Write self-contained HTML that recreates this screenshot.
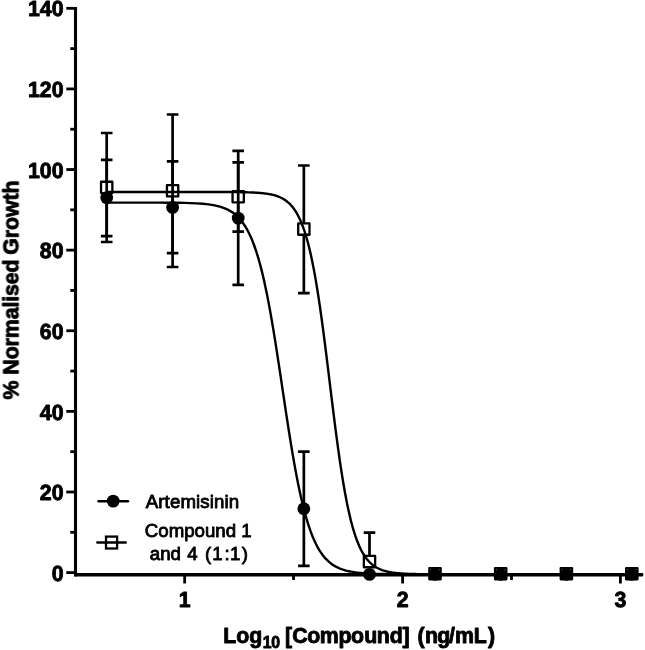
<!DOCTYPE html>
<html><head><meta charset="utf-8"><title>Dose response</title>
<style>html,body{margin:0;padding:0;background:#fff}body{width:645px;height:650px;position:relative;overflow:hidden}</style></head>
<body>
<svg width="645" height="650" viewBox="0 0 645 650" style="display:block;position:absolute;left:0;top:0">
<rect width="645" height="650" fill="#fff"/>
<g style="filter:blur(0.4px)">
<g fill="#000">
<rect x="73.95" y="7.0" width="3.1" height="569.4"/>
<rect x="74.1" y="572.9" width="569.2" height="3.6" rx="1"/>
<rect x="66.3" y="571.20" width="8.5" height="2.8"/>
<rect x="66.3" y="490.59" width="8.5" height="2.8"/>
<rect x="66.3" y="409.97" width="8.5" height="2.8"/>
<rect x="66.3" y="329.36" width="8.5" height="2.8"/>
<rect x="66.3" y="248.74" width="8.5" height="2.8"/>
<rect x="66.3" y="168.13" width="8.5" height="2.8"/>
<rect x="66.3" y="87.52" width="8.5" height="2.8"/>
<rect x="66.3" y="6.90" width="8.5" height="2.8"/>
<rect x="70.3" y="530.89" width="4.5" height="2.8"/>
<rect x="70.3" y="450.28" width="4.5" height="2.8"/>
<rect x="70.3" y="369.67" width="4.5" height="2.8"/>
<rect x="70.3" y="289.05" width="4.5" height="2.8"/>
<rect x="70.3" y="208.44" width="4.5" height="2.8"/>
<rect x="70.3" y="127.82" width="4.5" height="2.8"/>
<rect x="70.3" y="47.21" width="4.5" height="2.8"/>
<rect x="183.25" y="575" width="2.8" height="8.5"/>
<rect x="401.20" y="575" width="2.8" height="8.5"/>
<rect x="619.00" y="575" width="2.8" height="8.5"/>
<rect x="292.10" y="575" width="2.8" height="5"/>
<rect x="510.10" y="575" width="2.8" height="5"/>
</g>
<path d="M106.7,133.0 V242.0 M100.90,133.0 H112.50 M100.90,242.0 H112.50" stroke="#000" stroke-width="2.7" fill="none"/>
<path d="M172.6,114.5 V267.0 M166.80,114.5 H178.40 M166.80,267.0 H178.40" stroke="#000" stroke-width="2.7" fill="none"/>
<path d="M238.2,162.3 V231.6 M232.40,162.3 H244.00 M232.40,231.6 H244.00" stroke="#000" stroke-width="2.7" fill="none"/>
<path d="M303.85,165.5 V293.1 M298.05,165.5 H309.65 M298.05,293.1 H309.65" stroke="#000" stroke-width="2.7" fill="none"/>
<path d="M369.5,532.6 V561.6 M363.70,532.6 H375.30" stroke="#000" stroke-width="2.7" fill="none"/>
<rect x="101.05" y="181.75" width="11.3" height="11.3" fill="#fff" stroke="#000" stroke-width="2.3" stroke-linejoin="round"/>
<rect x="166.95" y="185.15" width="11.3" height="11.3" fill="#fff" stroke="#000" stroke-width="2.3" stroke-linejoin="round"/>
<rect x="232.55" y="191.05" width="11.3" height="11.3" fill="#fff" stroke="#000" stroke-width="2.3" stroke-linejoin="round"/>
<rect x="298.20" y="223.45" width="11.3" height="11.3" fill="#fff" stroke="#000" stroke-width="2.3" stroke-linejoin="round"/>
<rect x="363.85" y="555.95" width="11.3" height="11.3" fill="#fff" stroke="#000" stroke-width="2.3" stroke-linejoin="round"/>
<rect x="429.35" y="568.05" width="11.3" height="11.3" fill="#fff" stroke="#000" stroke-width="2.3" stroke-linejoin="round"/>
<rect x="495.05" y="568.05" width="11.3" height="11.3" fill="#fff" stroke="#000" stroke-width="2.3" stroke-linejoin="round"/>
<rect x="560.75" y="568.05" width="11.3" height="11.3" fill="#fff" stroke="#000" stroke-width="2.3" stroke-linejoin="round"/>
<rect x="626.15" y="568.05" width="11.3" height="11.3" fill="#fff" stroke="#000" stroke-width="2.3" stroke-linejoin="round"/>
<path d="M106.7,192.00 L112.7,192.00 L118.7,192.00 L124.7,192.00 L130.7,192.00 L136.7,192.00 L142.7,192.00 L148.7,192.00 L154.7,192.00 L160.7,192.00 L166.7,192.00 L172.7,192.00 L178.7,192.00 L184.7,192.00 L190.7,192.00 L196.7,192.00 L202.7,192.01 L208.7,192.01 L214.7,192.02 L220.7,192.03 L226.7,192.06 L230.0,192.07 L231.0,192.08 L232.0,192.09 L233.0,192.09 L234.0,192.10 L235.0,192.11 L236.0,192.12 L237.0,192.13 L238.0,192.15 L239.0,192.16 L240.0,192.17 L241.0,192.19 L242.0,192.20 L243.0,192.22 L244.0,192.24 L245.0,192.26 L246.0,192.29 L247.0,192.31 L248.0,192.34 L249.0,192.37 L250.0,192.41 L251.0,192.44 L252.0,192.48 L253.0,192.53 L254.0,192.57 L255.0,192.62 L256.0,192.68 L257.0,192.74 L258.0,192.81 L259.0,192.88 L260.0,192.96 L261.0,193.04 L262.0,193.13 L263.0,193.24 L264.0,193.35 L265.0,193.47 L266.0,193.60 L267.0,193.74 L268.0,193.89 L269.0,194.06 L270.0,194.25 L271.0,194.45 L272.0,194.67 L273.0,194.90 L274.0,195.16 L275.0,195.44 L276.0,195.75 L277.0,196.08 L278.0,196.44 L279.0,196.83 L280.0,197.26 L281.0,197.72 L282.0,198.23 L283.0,198.77 L284.0,199.37 L285.0,200.02 L286.0,200.72 L287.0,201.48 L288.0,202.31 L289.0,203.20 L290.0,204.17 L291.0,205.23 L292.0,206.37 L293.0,207.60 L294.0,208.94 L295.0,210.38 L296.0,211.94 L297.0,213.63 L298.0,215.45 L299.0,217.41 L300.0,219.52 L301.0,221.79 L302.0,224.23 L303.0,226.86 L304.0,229.67 L305.0,232.69 L306.0,235.92 L307.0,239.36 L308.0,243.04 L309.0,246.95 L310.0,251.12 L311.0,255.53 L312.0,260.21 L313.0,265.15 L314.0,270.36 L315.0,275.84 L316.0,281.59 L317.0,287.61 L318.0,293.89 L319.0,300.43 L320.0,307.21 L321.0,314.23 L322.0,321.48 L323.0,328.92 L324.0,336.55 L325.0,344.34 L326.0,352.26 L327.0,360.30 L328.0,368.42 L329.0,376.59 L330.0,384.79 L331.0,392.98 L332.0,401.14 L333.0,409.23 L334.0,417.22 L335.0,425.10 L336.0,432.82 L337.0,440.38 L338.0,447.75 L339.0,454.90 L340.0,461.83 L341.0,468.52 L342.0,474.96 L343.0,481.13 L344.0,487.04 L345.0,492.69 L346.0,498.06 L347.0,503.16 L348.0,507.99 L349.0,512.57 L350.0,516.88 L351.0,520.94 L352.0,524.76 L353.0,528.34 L354.0,531.70 L355.0,534.84 L356.0,537.78 L357.0,540.51 L358.0,543.06 L359.0,545.44 L360.0,547.65 L361.0,549.70 L362.0,551.60 L363.0,553.36 L364.0,555.00 L365.0,556.51 L366.0,557.91 L367.0,559.20 L368.0,560.40 L369.0,561.51 L370.0,562.52 L371.0,563.47 L372.0,564.33 L373.0,565.13 L374.0,565.87 L375.0,566.55 L376.0,567.17 L377.0,567.75 L378.0,568.28 L379.0,568.77 L380.0,569.22 L381.0,569.63 L382.0,570.01 L383.0,570.36 L384.0,570.68 L385.0,570.97 L386.0,571.25 L387.0,571.49 L388.0,571.72 L389.0,571.93 L390.0,572.13 L391.0,572.31 L392.0,572.47 L393.0,572.62 L394.0,572.76 L395.0,572.88 L396.0,573.00 L397.0,573.11 L398.0,573.20 L399.0,573.29 L400.0,573.38 L401.0,573.45 L402.0,573.52 L403.0,573.59 L404.0,573.64 L405.0,573.70 L406.0,573.75 L407.0,573.79 L408.0,573.83 L409.0,573.87 L410.0,573.91 L411.0,573.94 L412.0,573.97 L413.0,574.00 L414.0,574.02 L415.0,574.04 L416.0,574.07 L417.0,574.08 L418.0,574.10 L419.0,574.12 L420.0,574.13 L428.0,574.22 L436.0,574.26 L444.0,574.28 L452.0,574.29 L460.0,574.29 L468.0,574.30 L476.0,574.30 L484.0,574.30 L492.0,574.30 L500.0,574.30 L508.0,574.30 L516.0,574.30 L524.0,574.30 L532.0,574.30 L540.0,574.30 L548.0,574.30 L556.0,574.30 L564.0,574.30 L572.0,574.30 L580.0,574.30 L588.0,574.30 L596.0,574.30 L604.0,574.30 L612.0,574.30 L620.0,574.30 L628.0,574.30 L631.8,574.30" fill="none" stroke="#000" stroke-width="2.4"/>
<path d="M106.7,159.8 V236.2 M100.90,159.8 H112.50 M100.90,236.2 H112.50" stroke="#000" stroke-width="2.7" fill="none"/>
<path d="M172.6,161.4 V253.2 M166.80,161.4 H178.40 M166.80,253.2 H178.40" stroke="#000" stroke-width="2.7" fill="none"/>
<path d="M238.2,150.9 V284.8 M232.40,150.9 H244.00 M232.40,284.8 H244.00" stroke="#000" stroke-width="2.7" fill="none"/>
<path d="M303.85,451.7 V565.8 M298.05,451.7 H309.65 M298.05,565.8 H309.65" stroke="#000" stroke-width="2.7" fill="none"/>
<circle cx="106.7" cy="197.6" r="6.4" fill="#000"/>
<circle cx="172.6" cy="207.4" r="6.4" fill="#000"/>
<circle cx="238.2" cy="218.1" r="6.4" fill="#000"/>
<circle cx="303.85" cy="508.7" r="6.4" fill="#000"/>
<circle cx="369.5" cy="574.4" r="6.4" fill="#000"/>
<circle cx="435.0" cy="574.3" r="6.4" fill="#000"/>
<circle cx="500.7" cy="574.3" r="6.4" fill="#000"/>
<circle cx="566.4" cy="574.3" r="6.4" fill="#000"/>
<circle cx="631.8" cy="574.3" r="6.4" fill="#000"/>
<path d="M106.7,202.60 L112.7,202.60 L118.7,202.60 L124.7,202.60 L130.7,202.61 L136.7,202.61 L142.7,202.62 L148.7,202.62 L154.7,202.64 L160.7,202.66 L166.7,202.69 L172.7,202.74 L178.7,202.81 L184.7,202.92 L190.7,203.10 L196.7,203.36 L202.7,203.78 L208.7,204.41 L214.7,205.38 L220.7,206.87 L226.7,209.15 L230.0,210.87 L231.0,211.48 L232.0,212.12 L233.0,212.82 L234.0,213.56 L235.0,214.35 L236.0,215.20 L237.0,216.11 L238.0,217.08 L239.0,218.12 L240.0,219.23 L241.0,220.41 L242.0,221.68 L243.0,223.03 L244.0,224.47 L245.0,226.00 L246.0,227.63 L247.0,229.37 L248.0,231.22 L249.0,233.19 L250.0,235.27 L251.0,237.49 L252.0,239.84 L253.0,242.33 L254.0,244.96 L255.0,247.75 L256.0,250.69 L257.0,253.79 L258.0,257.06 L259.0,260.50 L260.0,264.11 L261.0,267.91 L262.0,271.89 L263.0,276.05 L264.0,280.39 L265.0,284.92 L266.0,289.64 L267.0,294.54 L268.0,299.63 L269.0,304.89 L270.0,310.33 L271.0,315.93 L272.0,321.69 L273.0,327.61 L274.0,333.66 L275.0,339.85 L276.0,346.15 L277.0,352.56 L278.0,359.06 L279.0,365.63 L280.0,372.26 L281.0,378.94 L282.0,385.63 L283.0,392.34 L284.0,399.03 L285.0,405.70 L286.0,412.32 L287.0,418.89 L288.0,425.37 L289.0,431.76 L290.0,438.05 L291.0,444.22 L292.0,450.25 L293.0,456.14 L294.0,461.88 L295.0,467.46 L296.0,472.86 L297.0,478.10 L298.0,483.15 L299.0,488.03 L300.0,492.71 L301.0,497.22 L302.0,501.53 L303.0,505.66 L304.0,509.61 L305.0,513.38 L306.0,516.96 L307.0,520.38 L308.0,523.62 L309.0,526.69 L310.0,529.61 L311.0,532.37 L312.0,534.98 L313.0,537.45 L314.0,539.77 L315.0,541.97 L316.0,544.04 L317.0,545.98 L318.0,547.81 L319.0,549.54 L320.0,551.15 L321.0,552.67 L322.0,554.09 L323.0,555.43 L324.0,556.68 L325.0,557.85 L326.0,558.95 L327.0,559.98 L328.0,560.94 L329.0,561.84 L330.0,562.68 L331.0,563.46 L332.0,564.20 L333.0,564.88 L334.0,565.52 L335.0,566.12 L336.0,566.68 L337.0,567.20 L338.0,567.69 L339.0,568.14 L340.0,568.56 L341.0,568.95 L342.0,569.32 L343.0,569.66 L344.0,569.98 L345.0,570.28 L346.0,570.56 L347.0,570.82 L348.0,571.06 L349.0,571.28 L350.0,571.49 L351.0,571.68 L352.0,571.86 L353.0,572.03 L354.0,572.19 L355.0,572.34 L356.0,572.47 L357.0,572.60 L358.0,572.72 L359.0,572.83 L360.0,572.93 L361.0,573.02 L362.0,573.11 L363.0,573.19 L364.0,573.27 L365.0,573.34 L366.0,573.41 L367.0,573.47 L368.0,573.53 L369.0,573.58 L370.0,573.63 L371.0,573.68 L372.0,573.72 L373.0,573.76 L374.0,573.80 L375.0,573.83 L376.0,573.87 L377.0,573.90 L378.0,573.92 L379.0,573.95 L380.0,573.98 L381.0,574.00 L382.0,574.02 L383.0,574.04 L384.0,574.06 L385.0,574.07 L386.0,574.09 L387.0,574.10 L388.0,574.12 L389.0,574.13 L390.0,574.14 L391.0,574.15 L392.0,574.16 L393.0,574.17 L394.0,574.18 L395.0,574.19 L396.0,574.20 L397.0,574.20 L398.0,574.21 L399.0,574.22 L400.0,574.22 L401.0,574.23 L402.0,574.23 L403.0,574.24 L404.0,574.24 L405.0,574.25 L406.0,574.25 L407.0,574.25 L408.0,574.26 L409.0,574.26 L410.0,574.26 L411.0,574.27 L412.0,574.27 L413.0,574.27 L414.0,574.27 L415.0,574.27 L416.0,574.28 L417.0,574.28 L418.0,574.28 L419.0,574.28 L420.0,574.28 L428.0,574.29 L436.0,574.29 L444.0,574.30 L452.0,574.30 L460.0,574.30 L468.0,574.30 L476.0,574.30 L484.0,574.30 L492.0,574.30 L500.0,574.30 L508.0,574.30 L516.0,574.30 L524.0,574.30 L532.0,574.30 L540.0,574.30 L548.0,574.30 L556.0,574.30 L564.0,574.30 L572.0,574.30 L580.0,574.30 L588.0,574.30 L596.0,574.30 L604.0,574.30 L612.0,574.30 L620.0,574.30 L628.0,574.30 L631.8,574.30" fill="none" stroke="#000" stroke-width="2.4"/>
<path d="M98.6,501.2 H127.9" stroke="#000" stroke-width="2.6" stroke-linecap="round"/>
<circle cx="113.2" cy="501.1" r="6.4" fill="#000"/>
<path d="M97.4,542.5 H125.7" stroke="#000" stroke-width="2.6" stroke-linecap="round"/>
<rect x="106.0" y="536.6" width="11.1" height="11.9" fill="none" stroke="#000" stroke-width="2.3"/>
<g font-family="Liberation Sans, Arial, sans-serif" font-weight="bold" font-size="21.33" fill="#000" stroke="#000" stroke-width="0.85" stroke-linejoin="round">
<text transform="translate(63.5,580.7) scale(1,1.03)" text-rendering="geometricPrecision" text-anchor="end">0</text>
<text transform="translate(63.5,500.1) scale(1,1.03)" text-rendering="geometricPrecision" text-anchor="end">20</text>
<text transform="translate(63.5,419.5) scale(1,1.03)" text-rendering="geometricPrecision" text-anchor="end">40</text>
<text transform="translate(63.5,338.9) scale(1,1.03)" text-rendering="geometricPrecision" text-anchor="end">60</text>
<text transform="translate(63.5,258.2) scale(1,1.03)" text-rendering="geometricPrecision" text-anchor="end">80</text>
<text transform="translate(63.5,177.6) scale(1,1.03)" text-rendering="geometricPrecision" text-anchor="end">100</text>
<text transform="translate(63.5,97.0) scale(1,1.03)" text-rendering="geometricPrecision" text-anchor="end">120</text>
<text transform="translate(63.5,16.4) scale(1,1.03)" text-rendering="geometricPrecision" text-anchor="end">140</text>
<text transform="translate(184.65,606.9) scale(1,1.03)" text-rendering="geometricPrecision" text-anchor="middle">1</text>
<text transform="translate(402.6,606.9) scale(1,1.03)" text-rendering="geometricPrecision" text-anchor="middle">2</text>
<text transform="translate(620.4,606.9) scale(1,1.03)" text-rendering="geometricPrecision" text-anchor="middle">3</text>
<text x="223.3" y="643.4">Log<tspan font-size="15.8" dy="4.4" dx="0.3 -0.3">10</tspan><tspan dy="-4.4" dx="-1.0 0.15 0.05 -0.3 -0.65 -0.2 -0.5 0.15 -0.45 -0.1 -0.15 0 1.8 0.4 -0.8 -1.2 0 -0.25 1.4"> [Compound] (ng/mL)</tspan></text>
<text transform="translate(18.4,290.0) rotate(-90)" text-anchor="middle" letter-spacing="-0.1" dx="0 0 0 0 0 0 0 0 0 0 0 0 0 -1">% Normalised Growth</text>
</g>
<g font-family="Liberation Sans, Arial, sans-serif" font-size="18.67" fill="#000" stroke="#000" stroke-width="0.85" stroke-linejoin="round">
<text x="145.7" y="508.1" letter-spacing="0.12">Artemisinin</text>
<text x="198.2" y="537.1" text-anchor="middle">Compound 1</text>
<text x="149.8" y="560.1" dx="0 0 0 0 1.1 0 2.2 0.9 2 0.2 1.4">and 4 (1:1)</text>
</g>
</g>
</svg>
</body></html>
